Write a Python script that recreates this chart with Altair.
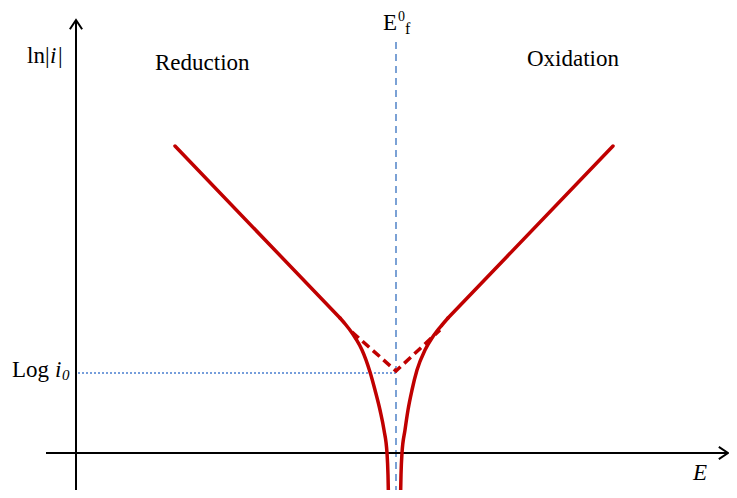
import altair as alt
import pandas as pd

# ---- data (E relative to E0f, ln|i| relative to the E axis) ----
# straight Tafel branches
tafel_left_E = [-2.21, -0.56]
tafel_left_L = [6.14, 2.70]
tafel_right_E = [2.17, 0.52]
tafel_right_L = [6.14, 2.70]
# curved branches, from where they leave the Tafel lines
curve_left_E = [-0.56, -0.50, -0.45, -0.40, -0.34, -0.26, -0.21, -0.16, -0.12, -0.09, -0.08, -0.075]
curve_left_L = [2.70, 2.56, 2.43, 2.28, 2.06, 1.62, 1.26, 0.86, 0.46, 0.0, -0.44, -0.90]
curve_right_E = [0.52, 0.46, 0.41, 0.36, 0.29, 0.21, 0.16, 0.12, 0.09, 0.06, 0.05, 0.045]
curve_right_L = [2.70, 2.56, 2.44, 2.30, 2.06, 1.66, 1.26, 0.86, 0.46, 0.0, -0.44, -0.90]
dash_E = [-0.44, 0.0, 0.44]
dash_L = [2.42, 1.64, 2.46]
log_i0 = 1.60
E0f_top = 8.22
Emin, Emax = -3.96, 3.41
Lmin, Lmax = -0.90, 9.06
yaxis_E = -3.20
yaxis_L = [-0.74, 8.66]
xaxis_E = [-3.50, 3.32]

RED = "#C00000"
BLUE = "#5B8BCB"
FONT = "Liberation Serif"

xs = alt.Scale(domain=[Emin, Emax], nice=False, zero=False)
ys = alt.Scale(domain=[Lmin, Lmax], nice=False, zero=False)


def enc(**kw):
    return dict(
        x=alt.X("E:Q", scale=xs, axis=None),
        y=alt.Y("L:Q", scale=ys, axis=None),
        **kw,
    )


def line(E, L, **mk):
    df = pd.DataFrame({"E": E, "L": L, "o": list(range(len(E)))})
    return alt.Chart(df).mark_line(**mk).encode(**enc(order="o:Q"))


red = dict(color=RED, strokeWidth=3.5, strokeCap="round", strokeJoin="round")
tl = line(tafel_left_E, tafel_left_L, **red)
tr = line(tafel_right_E, tafel_right_L, **red)
cl = line(curve_left_E, curve_left_L, interpolate="monotone", clip=True, **red)
cr = line(curve_right_E, curve_right_L, interpolate="monotone", clip=True, **red)
dashed = line(dash_E, dash_L, color=RED, strokeWidth=3.5, strokeDash=[9, 5])

e0f_line = line([0, 0], [E0f_top, Lmin], color=BLUE, strokeWidth=1.6, strokeDash=[7, 5])
i0_line = line([yaxis_E + 0.02, 0], [log_i0, log_i0], color="#4A7FD0", strokeWidth=1.7, strokeDash=[2, 2])

y_axis = line([yaxis_E, yaxis_E], yaxis_L, color="black", strokeWidth=2)
x_axis = line(xaxis_E, [0, 0], color="black", strokeWidth=2)

arrows_df = pd.DataFrame({"E": [yaxis_E, xaxis_E[1]], "L": [yaxis_L[1], 0], "a": [0, 90]})
arrows = alt.Chart(arrows_df).mark_point(
    shape="M-1,1.5L0,0L1,1.5", size=150, filled=False, color="black", strokeWidth=2, opacity=1
).encode(**enc(angle=alt.Angle("a:Q", scale=None)))


def text(label, E, L, size=23, style="normal"):
    df = pd.DataFrame({"E": [E], "L": [L], "t": [label]})
    return alt.Chart(df).mark_text(
        align="left", baseline="alphabetic", font=FONT, fontSize=size, fontStyle=style, color="black"
    ).encode(**enc(text="t:N"))


texts = [
    text("Reduction", -2.41, 7.66),
    text("Oxidation", 1.31, 7.74),
    text("ln|", -3.69, 7.80),
    text("i", -3.46, 7.80, style="italic"),
    text("|", -3.38, 7.80),
    text("Log", -3.84, 1.52),
    text("i", -3.41, 1.52, style="italic"),
    text("0", -3.34, 1.46, size=15, style="italic"),
    text("E", -0.13, 8.46),
    text("0", 0.02, 8.64, size=14),
    text("f", 0.09, 8.38, size=16),
    text("E", 2.97, -0.54, style="italic"),
]

chart = alt.layer(
    e0f_line, i0_line, y_axis, x_axis, arrows, dashed, tl, tr, cl, cr, *texts
).properties(
    width=737, height=498, autosize="none", background="white",
    padding={"left": -8, "top": -8, "right": -8, "bottom": -8},
).configure_view(stroke=None)

chart.save("out.html", embed_options={"renderer": "svg", "actions": False})
